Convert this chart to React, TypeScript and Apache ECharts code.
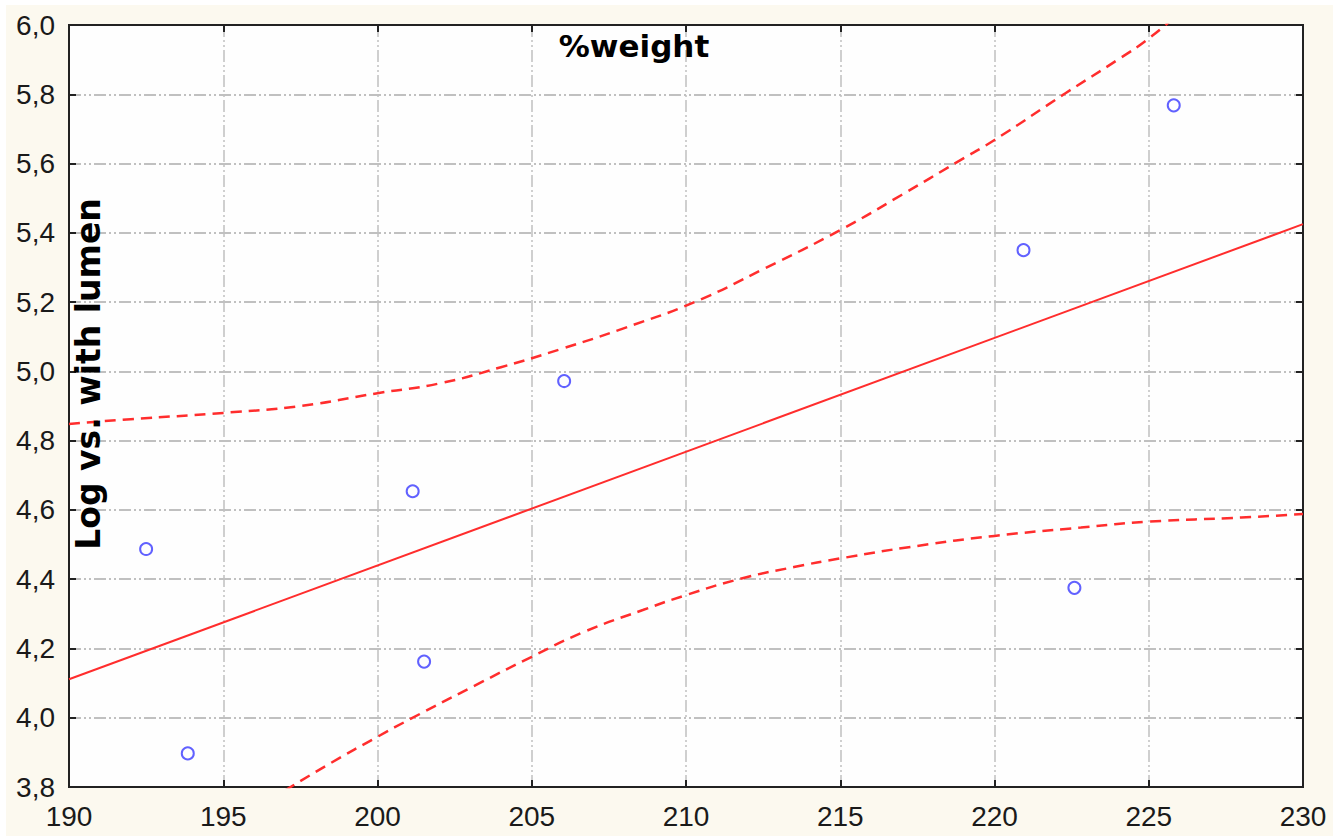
import React, { useEffect, useRef } from "react";
import * as echarts from "echarts";

// Observed data points (%weight, Log vs. with lumen)
const pointX = [192.5, 193.85, 201.14, 201.51, 206.05, 220.94, 222.59, 225.81];
const pointY = [4.487, 3.897, 4.654, 4.162, 4.972, 5.35, 4.375, 5.768];

// Regression line (endpoints read at axis limits)
const fitX = [190, 230];
const fitY = [4.111, 5.425];

// Upper confidence band
const upperX = [190, 192, 195, 197.5, 200, 202, 204, 206, 208, 210.3, 212.5, 215, 217, 218.8, 220, 222.3, 224, 225, 226];
const upperY = [4.848, 4.862, 4.88, 4.9, 4.937, 4.965, 5.012, 5.066, 5.125, 5.201, 5.295, 5.408, 5.51, 5.605, 5.668, 5.803, 5.9, 5.961, 6.035];

// Lower confidence band
const lowerX = [197.0, 198.5, 200, 201.1, 203.4, 205, 206.7, 208.6, 210, 211.8, 213.5, 215, 217.5, 220, 222.8, 225, 228, 230];
const lowerY = [3.79, 3.87, 3.945, 3.998, 4.104, 4.176, 4.248, 4.311, 4.354, 4.402, 4.435, 4.46, 4.496, 4.525, 4.549, 4.566, 4.578, 4.588];

const xTicks = { min: 190, max: 230, interval: 5 };
const yTicks = { min: 3.8, max: 6.0, interval: 0.2 };

const titleText = "%weight";
const yNameText = "Log vs. with lumen";

const zip = (xs: number[], ys: number[]) => xs.map((x, i) => [x, ys[i]]);

export default function App() {
  const ref = useRef<HTMLDivElement>(null);

  useEffect(() => {
    if (!ref.current) return;
    const chart = echarts.init(ref.current, undefined, { renderer: "svg" });
    const grid = "#c0c0c0";
    const gridDash = [12, 3, 2, 3, 2, 3];
    const axisCol = "#222";
    const red = "#ff2d2d";
    const fmt = (v: number) => v.toFixed(1).replace(".", ",");

    const baseTick = { show: true, inside: true, length: 7, lineStyle: { color: axisCol, width: 2 } };

    chart.setOption({
      animation: false,
      backgroundColor: "#fcf9ef",
      grid: {
        left: 69,
        top: 25,
        width: 1234,
        height: 762,
        show: true,
        backgroundColor: "#fefefe",
        borderColor: axisCol,
        borderWidth: 2,
      },
      graphic: [
        { type: "rect", shape: { x: 0, y: 0, width: 1339, height: 5 }, style: { fill: "#ffffff" }, silent: true },
        { type: "rect", shape: { x: 1333, y: 0, width: 6, height: 836 }, style: { fill: "#ffffff" }, silent: true },
        { type: "rect", shape: { x: 0, y: 0, width: 6, height: 836 }, style: { fill: "#ffffff" }, silent: true },
        {
          type: "text",
          x: 634,
          y: 46,
          z: 100,
          style: {
            text: titleText,
            font: "bold 31px 'DejaVu Sans'",
            fill: "#000",
            textAlign: "center",
            textVerticalAlign: "middle",
          },
        },
        {
          type: "text",
          x: 88,
          y: 374,
          rotation: Math.PI / 2,
          z: 100,
          style: {
            text: yNameText,
            font: "bold 33px 'DejaVu Sans'",
            fill: "#000",
            textAlign: "center",
            textVerticalAlign: "middle",
          },
        },
      ],
      xAxis: [
        {
          type: "value",
          position: "bottom",
          ...xTicks,
          axisLine: { show: true, lineStyle: { color: axisCol, width: 2 } },
          axisTick: baseTick,
          splitLine: { show: true, lineStyle: { color: grid, width: 1.5, type: gridDash } },
          axisLabel: {
            fontSize: 28,
            color: "#1a1a1a",
            fontFamily: "'Liberation Sans', Arial, sans-serif",
            margin: 15,
          },
        },
        {
          type: "value",
          position: "top",
          ...xTicks,
          axisLine: { show: true, lineStyle: { color: axisCol, width: 2 } },
          axisTick: baseTick,
          splitLine: { show: false },
          axisLabel: { show: false },
        },
      ],
      yAxis: [
        {
          type: "value",
          position: "left",
          ...yTicks,
          axisLine: { show: true, lineStyle: { color: axisCol, width: 2 } },
          axisTick: baseTick,
          splitLine: { show: true, lineStyle: { color: grid, width: 2, type: gridDash } },
          axisLabel: {
            fontSize: 28,
            color: "#1a1a1a",
            fontFamily: "'Liberation Sans', Arial, sans-serif",
            margin: 14,
            formatter: fmt,
          },
        },
        {
          type: "value",
          position: "right",
          ...yTicks,
          axisLine: { show: true, lineStyle: { color: axisCol, width: 2 } },
          axisTick: baseTick,
          splitLine: { show: false },
          axisLabel: { show: false },
        },
      ],
      series: [
        {
          type: "line",
          data: zip(upperX, upperY),
          smooth: true,
          showSymbol: false,
          clip: true,
          lineStyle: { color: red, width: 2.5, type: [11, 7] },
          z: 3,
        },
        {
          type: "line",
          data: zip(lowerX, lowerY),
          smooth: true,
          showSymbol: false,
          clip: true,
          lineStyle: { color: red, width: 2.5, type: [11, 7] },
          z: 3,
        },
        {
          type: "line",
          data: zip(fitX, fitY),
          showSymbol: false,
          clip: true,
          lineStyle: { color: red, width: 2 },
          z: 3,
        },
        {
          type: "scatter",
          data: zip(pointX, pointY),
          symbol: "circle",
          symbolSize: 12,
          itemStyle: { color: "transparent", borderColor: "#3a3aff", borderWidth: 2 },
          z: 4,
        },
      ],
    });
    return () => chart.dispose();
  }, []);

  return (
    <div
      ref={ref}
      style={{ position: "fixed", left: 0, top: 0, width: 1339, height: 836 }}
    />
  );
}
